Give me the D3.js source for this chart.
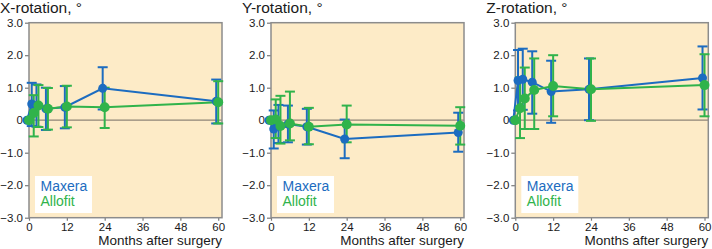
<!DOCTYPE html>
<html>
<head>
<meta charset="utf-8">
<script src="https://cdn.jsdelivr.net/npm/d3@7"></script>
<style>
  body { margin: 0; background: #fff; }
  text { font-family: "Liberation Sans", Arial, Helvetica, sans-serif; fill: #1a1a1a; }
</style>
</head>
<body>
<div id="chart"></div>
<script>
// follow-up time points (months)
var months = [0, 1.5, 3, 6, 12, 24, 60];
var xTicks = [0, 12, 24, 36, 48, 60];
var yTicks = [-3, -2, -1, 0, 1, 2, 3];
var seriesNames = ["Maxera", "Allofit"];
var panelTitles = ["X-rotation, °", "Y-rotation, °", "Z-rotation, °"];

// X-rotation
var xMaxera    = [0, 0.50, 0.45, 0.35, 0.40, 0.98, 0.58];
var xMaxeraHi  = [0, 1.15, 1.10, 1.00, 1.05, 1.63, 1.25];
var xMaxeraLo  = [0, -0.18, -0.20, -0.30, -0.25, 0.33, -0.10];
var xAllofit   = [0, 0.22, 0.45, 0.35, 0.42, 0.40, 0.55];
var xAllofitHi = [0, 0.77, 1.08, 0.99, 1.06, 1.00, 1.20];
var xAllofitLo = [0, -0.50, -0.21, -0.29, -0.22, -0.24, -0.10];

// Y-rotation
var yMaxera    = [0, -0.27, -0.15, -0.12, -0.20, -0.58, -0.38];
var yMaxeraHi  = [0, 0.30, 0.47, 0.45, 0.35, 0.02, 0.23];
var yMaxeraLo  = [0, -0.87, -0.70, -0.68, -0.75, -1.17, -0.97];
var yAllofit   = [0, 0.02, -0.18, -0.10, -0.20, -0.13, -0.17];
var yAllofitHi = [0, 0.64, 0.75, 0.88, 0.38, 0.45, 0.40];
var yAllofitLo = [0, -0.55, -0.72, -0.62, -0.74, -0.68, -0.75];

// Z-rotation
var zMaxera    = [0, 1.22, 1.26, 1.17, 0.88, 0.95, 1.30];
var zMaxeraHi  = [0, 2.16, 2.20, 2.12, 1.83, 1.90, 2.27];
var zMaxeraLo  = [0, 0.30, 0.32, 0.20, -0.08, 0.00, 0.33];
var zAllofit   = [0, 0.37, 0.67, 0.93, 1.05, 0.95, 1.08];
var zAllofitHi = [0, 1.32, 1.62, 1.90, 2.00, 1.90, 2.03];
var zAllofitLo = [0, -0.55, -0.27, -0.27, 0.12, -0.02, 0.12];

var width = 712, height = 249;
var blue = "#1c6cc0", green = "#30b34b";
var plotLefts = [29, 271, 515.3];
var plotW = 193, plotTop = 22.7, plotBottom = 217.7;

var panels = [
    { title: panelTitles[0], series: [
        { name: seriesNames[0], color: blue, mean: xMaxera, hi: xMaxeraHi, lo: xMaxeraLo, r: 4.5, dx: -2 },
        { name: seriesNames[1], color: green, mean: xAllofit, hi: xAllofitHi, lo: xAllofitLo, r: 5, dx: 0 } ] },
    { title: panelTitles[1], series: [
        { name: seriesNames[0], color: blue, mean: yMaxera, hi: yMaxeraHi, lo: yMaxeraLo, r: 4.5, dx: -2 },
        { name: seriesNames[1], color: green, mean: yAllofit, hi: yAllofitHi, lo: yAllofitLo, r: 5, dx: 0 } ] },
    { title: panelTitles[2], series: [
        { name: seriesNames[0], color: blue, mean: zMaxera, hi: zMaxeraHi, lo: zMaxeraLo, r: 4.5, dx: -2 },
        { name: seriesNames[1], color: green, mean: zAllofit, hi: zAllofitHi, lo: zAllofitLo, r: 5, dx: 0 } ] }
];

var svg = d3.select("#chart").append("svg")
    .attr("width", width)
    .attr("height", height);

var y = d3.scaleLinear().domain([-3, 3]).range([plotBottom, plotTop]);
var yFmt = function(d) { return d === 0 ? "0" : d3.format(".1f")(d); };

panels.forEach(function(p, pi) {
    var left = plotLefts[pi];
    var x = d3.scaleLinear().domain([0, 61.2]).range([left, left + plotW]);
    var g = svg.append("g");

    // background
    g.append("rect")
        .attr("x", left).attr("y", plotTop)
        .attr("width", plotW).attr("height", plotBottom - plotTop)
        .attr("fill", "#fdebc7");

    // zero line
    g.append("line")
        .attr("x1", left).attr("x2", left + plotW)
        .attr("y1", y(0)).attr("y2", y(0))
        .attr("stroke", "#8e8577").attr("stroke-width", 1.3);

    // axes
    var yAxis = d3.axisLeft(y).tickValues(yTicks).tickFormat(yFmt).tickSize(4).tickPadding(2);
    var gy = g.append("g").attr("transform", "translate(" + left + ",0)").call(yAxis);
    var xAxis = d3.axisBottom(x).tickValues(xTicks).tickSize(3).tickPadding(2.5);
    var gx = g.append("g").attr("transform", "translate(0," + plotBottom + ")").call(xAxis);
    [gx, gy].forEach(function(a) {
        a.select(".domain").remove();
        a.selectAll(".tick line").attr("stroke", "#7a7a7a").attr("stroke-width", 1.2);
        a.selectAll(".tick text").attr("font-size", 11.5).attr("fill", "#1a1a1a")
            .style("font-family", "'Liberation Sans', Arial, sans-serif");
    });

    // frame
    g.append("rect")
        .attr("x", left).attr("y", plotTop)
        .attr("width", plotW).attr("height", plotBottom - plotTop)
        .attr("fill", "none").attr("stroke", "#8c8c8c").attr("stroke-width", 1.5);

    // titles
    g.append("text")
        .attr("x", left - 29).attr("y", 13)
        .attr("font-size", 15.5)
        .text(p.title);
    g.append("text")
        .attr("x", left + plotW).attr("y", 245)
        .attr("text-anchor", "end")
        .attr("font-size", 13.5)
        .text("Months after surgery");

    // error bars
    p.series.forEach(function(s) {
        var bars = g.append("g")
            .attr("stroke", s.color).attr("stroke-width", 2).attr("fill", "none");
        months.forEach(function(m, i) {
            if (s.hi[i] === s.lo[i]) return;
            var cx = x(m) + s.dx;
            bars.append("line").attr("x1", cx).attr("x2", cx)
                .attr("y1", y(s.hi[i])).attr("y2", y(s.lo[i]));
            [s.hi[i], s.lo[i]].forEach(function(v) {
                bars.append("line").attr("x1", cx - 5).attr("x2", cx + 5)
                    .attr("y1", y(v)).attr("y2", y(v));
            });
        });
    });

    // lines
    p.series.forEach(function(s) {
        var line = d3.line()
            .x(function(d, i) { return x(months[i]) + s.dx; })
            .y(function(d) { return y(d); });
        g.append("path")
            .datum(s.mean)
            .attr("d", line)
            .attr("fill", "none")
            .attr("stroke", s.color)
            .attr("stroke-width", 2);
    });

    // points
    p.series.forEach(function(s) {
        g.append("g").selectAll("circle").data(s.mean).enter()
            .append("circle")
                .attr("cx", function(d, i) { return x(months[i]) + s.dx; })
                .attr("cy", function(d) { return y(d); })
                .attr("r", s.r)
                .attr("fill", s.color);
    });

    // legend
    var lg = g.append("g");
    lg.append("rect")
        .attr("x", left + 6).attr("y", 176)
        .attr("width", 57).attr("height", 37)
        .attr("fill", "#fff");
    p.series.forEach(function(s, i) {
        lg.append("text")
            .attr("x", left + 11.5).attr("y", 190.5 + i * 15.2)
            .attr("font-size", 14)
            .style("fill", s.color)
            .text(s.name);
    });
});
</script>
</body>
</html>
